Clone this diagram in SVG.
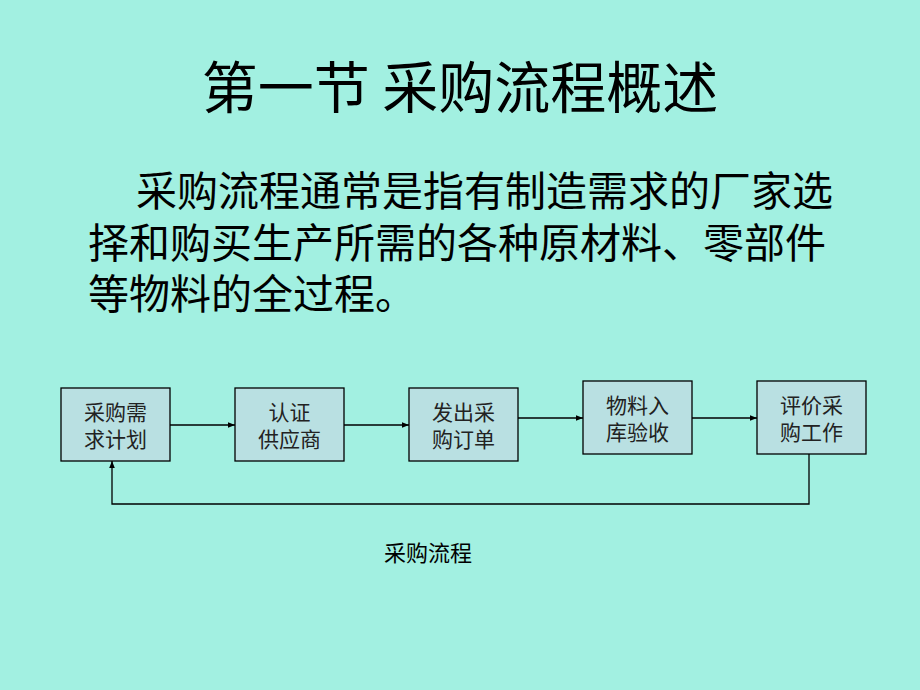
<svg xmlns="http://www.w3.org/2000/svg" width="920" height="690" viewBox="0 0 920 690">
<style>
.t{font-family:"Noto Sans CJK SC","Noto Sans",sans-serif;fill:#000}
.p{font-size:41px}
.box{fill:#b9e0e2;stroke:#000;stroke-width:1.3}
.bt{font-family:"Noto Sans CJK SC","Noto Sans",sans-serif;font-size:21px;fill:#222;text-anchor:middle}
.c{fill:none;stroke:#000;stroke-width:1.3}
</style>
<defs>
<marker id="ah" viewBox="0 0 10 10" refX="10" refY="5" markerWidth="7" markerHeight="7" markerUnits="userSpaceOnUse" orient="auto">
<path d="M0,1 L10,5 L0,9 z" fill="#000"/>
</marker>
</defs>
<rect width="920" height="690" fill="#a2f0e1"/>
<text class="t" x="460" y="108" font-size="56" text-anchor="middle">第一节 采购流程概述</text>
<g id="para">
<text class="t p" x="136" y="206">采购流程通常是指有制造需求的厂家选</text>
<text class="t p" x="88" y="258">择和购买生产所需的各种原材料、零部件</text>
<text class="t p" x="88" y="309">等物料的全过程。</text>
</g>
<g id="n1"><rect class="box" x="61" y="388" width="109" height="73"/><text class="bt" x="115.5" y="420">采购需</text><text class="bt" x="115.5" y="447">求计划</text></g>
<g id="n2"><rect class="box" x="235" y="388" width="109" height="73"/><text class="bt" x="289.5" y="420">认证</text><text class="bt" x="289.5" y="447">供应商</text></g>
<g id="n3"><rect class="box" x="409" y="388" width="109" height="73"/><text class="bt" x="463.5" y="420">发出采</text><text class="bt" x="463.5" y="447">购订单</text></g>
<g id="n4"><rect class="box" x="583" y="381" width="109" height="73"/><text class="bt" x="637.5" y="413">物料入</text><text class="bt" x="637.5" y="440">库验收</text></g>
<g id="n5"><rect class="box" x="757" y="381" width="109" height="73"/><text class="bt" x="811.5" y="413">评价采</text><text class="bt" x="811.5" y="440">购工作</text></g>
<g id="connectors">
<line class="c" x1="170" y1="425" x2="235" y2="425" marker-end="url(#ah)"/>
<line class="c" x1="344" y1="425" x2="409" y2="425" marker-end="url(#ah)"/>
<line class="c" x1="518" y1="418" x2="583" y2="418" marker-end="url(#ah)"/>
<line class="c" x1="692" y1="418" x2="757" y2="418" marker-end="url(#ah)"/>
<polyline class="c" points="809,454 809,504 112,504 112,461" marker-end="url(#ah)"/>
</g>
<text class="t" x="428" y="561" font-size="22" text-anchor="middle" fill="#222">采购流程</text>
</svg>
